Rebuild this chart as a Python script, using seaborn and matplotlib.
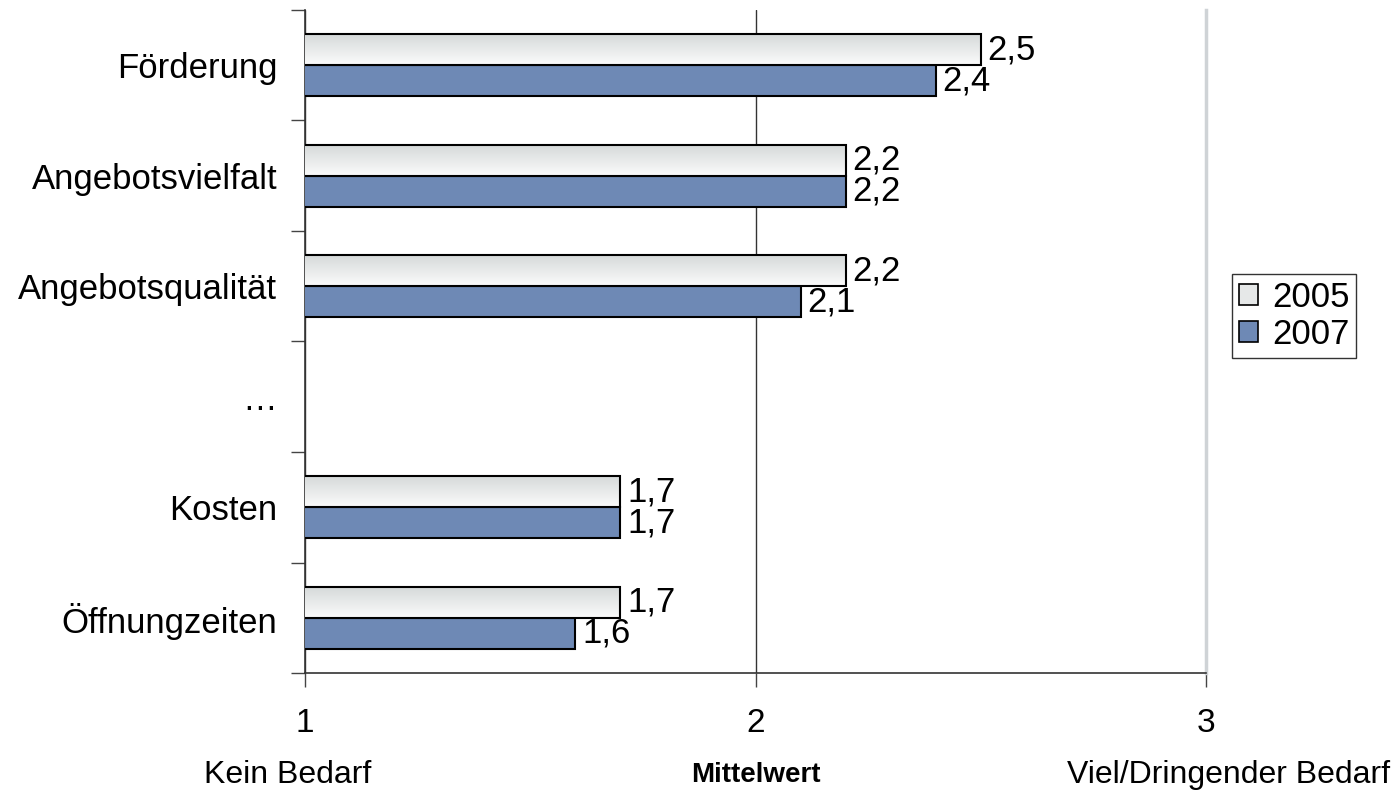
import matplotlib
matplotlib.use("Agg")
import matplotlib.pyplot as plt
import numpy as np
import pandas as pd
import seaborn as sns
from matplotlib.colors import LinearSegmentedColormap
from matplotlib.patches import Patch

categories = ["Förderung", "Angebotsvielfalt", "Angebotsqualität", "…", "Kosten", "Öffnungzeiten"]
years = ["2005", "2007"]
values_2005 = [2.5, 2.2, 2.2, np.nan, 1.7, 1.7]
values_2007 = [2.4, 2.2, 2.1, np.nan, 1.7, 1.6]
x_ticks = [1, 2, 3]
scale_labels = ["Kein Bedarf", "Mittelwert", "Viel/Dringender Bedarf"]

color_2007 = "#6e89b5"
grad_top, grad_bottom = "#d6dada", "#fbfbfb"
FS = 25

sns.set_style("white")
plt.rcParams["font.family"] = ["Liberation Sans", "DejaVu Sans"]
plt.rcParams["text.color"] = "black"
plt.rcParams["xtick.color"] = "black"
plt.rcParams["ytick.color"] = "black"

df = pd.DataFrame({
    "category": categories * 2,
    "year": [years[0]] * len(categories) + [years[1]] * len(categories),
    "value": values_2005 + values_2007,
})

fig = plt.figure(figsize=(13.96, 7.92), dpi=100)
ax = fig.add_axes([305 / 1396, 1 - 673 / 792, (1206 - 305) / 1396, (673 - 10) / 792])

sns.barplot(
    data=df, y="category", x="value", hue="year", order=categories, hue_order=years,
    orient="h", width=0.56, palette=["#eeeeee", color_2007], saturation=1,
    edgecolor="black", linewidth=1.5, legend=False, ax=ax, zorder=3,
)

ax.set_xlim(1, 3)
ax.set_ylim(len(categories) - 0.5, -0.5)

# gradient fill for the 2005 bars
cmap = LinearSegmentedColormap.from_list("grad", [grad_top, grad_bottom])
grad = np.linspace(0, 1, 64).reshape(-1, 1)
x_left = ax.get_xlim()[0]
for bar in ax.containers[0]:
    x0, y0 = bar.get_x(), bar.get_y()
    w, h = bar.get_width(), bar.get_height()
    if np.isnan(w):
        continue
    img = ax.imshow(grad, cmap=cmap, aspect="auto",
                    extent=(max(x0, x_left), x0 + w, y0 + h, y0),
                    origin="upper", zorder=3.5, interpolation="bilinear")
    img.set_clip_path(bar)
    bar.set_facecolor("none")
    bar.set_zorder(4)

ax.set_xlim(1, 3)
ax.set_ylim(len(categories) - 0.5, -0.5)

for cont in ax.containers:
    labels = ["" if np.isnan(v) else f"{v:.1f}".replace(".", ",") for v in cont.datavalues]
    ax.bar_label(cont, labels=labels, padding=5, fontsize=FS, zorder=5)

ax.set_xticks(x_ticks)
ax.set_xticklabels([str(t) for t in x_ticks], fontsize=FS - 1)
ax.tick_params(axis="x", direction="out", length=10, width=1, color="#444444", pad=15, bottom=True)
ax.tick_params(axis="y", which="major", length=0, pad=20, labelsize=FS)
ax.set_yticks(np.arange(-0.5, len(categories), 1), minor=True)
ax.tick_params(axis="y", which="minor", direction="out", length=10, width=1, color="#444444", left=True)
ax.set_xlabel("")
ax.set_ylabel("")

ax.xaxis.grid(True, color="#333333", linewidth=1, zorder=0)
ax.set_axisbelow(True)
for side in ["left", "bottom"]:
    ax.spines[side].set_color("#333333")
    ax.spines[side].set_linewidth(1.2)
ax.spines["top"].set_visible(False)
ax.spines["right"].set_color("#cfd3d6")
ax.spines["right"].set_linewidth(2.5)

handles = [
    Patch(facecolor="#e6e8e8", edgecolor="black", linewidth=1.2, label=years[0]),
    Patch(facecolor=color_2007, edgecolor="black", linewidth=1.2, label=years[1]),
]
fig.legend(handles=handles, loc="center left", bbox_to_anchor=(1232 / 1396, 1 - 316 / 792),
           fontsize=FS, frameon=True, fancybox=False, edgecolor="black",
           handlelength=0.55, handleheight=0.55, handletextpad=0.4,
           borderpad=0.2, labelspacing=0.12, borderaxespad=0)

fig.text(288 / 1396, 1 - 775 / 792, scale_labels[0], fontsize=FS - 2, ha="center", va="center")
fig.text(756 / 1396, 1 - 775 / 792, scale_labels[1], fontsize=20, fontweight="bold",
         ha="center", va="center")
fig.text(1390 / 1396, 1 - 775 / 792, scale_labels[2], fontsize=FS - 2, ha="right", va="center")

fig.savefig("out.png", dpi=100)
